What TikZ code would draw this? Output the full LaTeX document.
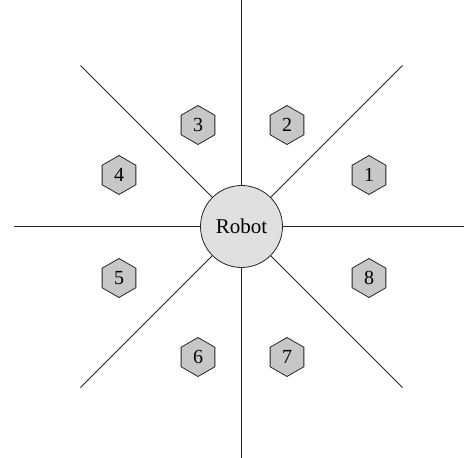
\documentclass[tikz,border=0pt]{standalone}
\usepackage{fontspec}
\setmainfont{Liberation Serif}
\usetikzlibrary{shapes.geometric}
\begin{document}
\begin{tikzpicture}[x=1pt,y=-1pt,
  ray/.style={line width=0.8pt,black!85},
  hexa/.style={regular polygon,regular polygon sides=6,shape border rotate=30,
    minimum size=39pt,inner sep=0pt,draw=black!85,line width=0.8pt,fill=black!22,
    font=\fontsize{20}{22}\selectfont},
  robotnode/.style={circle,minimum size=82pt,inner sep=0pt,draw=black!85,line width=0.8pt,
    fill=black!12,font=\fontsize{21}{24}\selectfont}]
\useasboundingbox (0,0) rectangle (464,458);
\node[robotnode] (robot) at (241.5,226.5) {Robot};
\coordinate (eN) at (241.5,0);
\coordinate (eS) at (241.5,458);
\coordinate (eW) at (14,226.5);
\coordinate (eE) at (464,226.5);
\coordinate (eNW) at (80.5,65.5);
\coordinate (eNE) at (402.5,65.5);
\coordinate (eSW) at (80.5,387.5);
\coordinate (eSE) at (402.5,387.5);
\foreach \e in {eN,eS,eW,eE,eNW,eNE,eSW,eSE}{\draw[ray] (\e) -- (robot);}
\node[hexa] (h1) at (369,175) {1};
\node[hexa] (h2) at (287,125) {2};
\node[hexa] (h3) at (198,125) {3};
\node[hexa] (h4) at (119,175) {4};
\node[hexa] (h5) at (119,278) {5};
\node[hexa] (h6) at (198,357) {6};
\node[hexa] (h7) at (287,357) {7};
\node[hexa] (h8) at (369,278) {8};
\end{tikzpicture}
\end{document}
